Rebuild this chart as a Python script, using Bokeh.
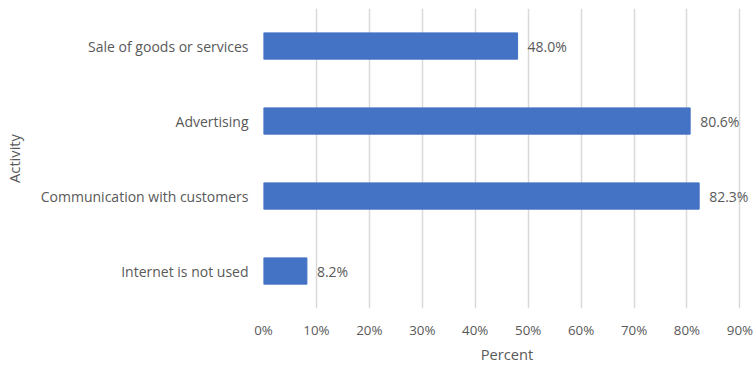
from bokeh.plotting import figure
from bokeh.models import ColumnDataSource, FixedTicker, Range1d, LabelSet
from bokeh.core.properties import value
from bokeh.embed import file_html
from bokeh.resources import INLINE

# Share of enterprises by internet activity
activities = ["Sale of goods or services", "Advertising",
              "Communication with customers", "Internet is not used"]
percents = [48.0, 80.6, 82.3, 8.2]
x_ticks = [0, 10, 20, 30, 40, 50, 60, 70, 80, 90]

FONT = "Open Sans"
TEXT = "#595959"

order = list(reversed(activities))
src = ColumnDataSource(dict(
    activity=activities,
    pct=percents,
    label=[f"{v:.1f}%" for v in percents],
))

# a little headroom past 90% keeps the last value label from being clipped
p = figure(width=756, height=366, y_range=order, x_range=Range1d(0, 92),
           output_backend="svg", toolbar_location=None,
           min_border_left=262, min_border_right=6,
           min_border_top=8, min_border_bottom=46)
p.outline_line_color = None
p.background_fill_color = "white"

p.hbar(y="activity", right="pct", left=0, height=0.35, source=src,
       fill_color="#4472C4", line_color="#4472C4")

labels = LabelSet(x="pct", y="activity", text="label", source=src,
                  x_offset=10, y_offset=0, text_baseline="middle",
                  text_font=value(FONT), text_font_size="10.5pt", text_color=TEXT)
p.add_layout(labels)

p.xaxis.ticker = FixedTicker(ticks=x_ticks)
p.xaxis.major_label_overrides = {t: f"{t}%" for t in x_ticks}
p.xaxis.axis_line_color = None
p.xaxis.major_tick_line_color = None
p.xaxis.minor_tick_line_color = None
p.xaxis.major_label_standoff = 6
p.xaxis.major_label_text_font = FONT
p.xaxis.major_label_text_font_size = "10pt"
p.xaxis.major_label_text_color = TEXT
p.xaxis.axis_label = "Percent"
p.xaxis.axis_label_text_font = FONT
p.xaxis.axis_label_text_font_style = "normal"
p.xaxis.axis_label_text_font_size = "11pt"
p.xaxis.axis_label_text_color = TEXT
p.xaxis.axis_label_standoff = 2

p.yaxis.axis_line_color = None
p.yaxis.major_tick_line_color = None
p.yaxis.minor_tick_line_color = None
p.yaxis.major_label_standoff = 9
p.yaxis.major_label_text_font = FONT
p.yaxis.major_label_text_font_size = "10.5pt"
p.yaxis.major_label_text_color = TEXT
p.yaxis.axis_label = "Activity"
p.yaxis.axis_label_text_font = FONT
p.yaxis.axis_label_text_font_style = "normal"
p.yaxis.axis_label_text_font_size = "11pt"
p.yaxis.axis_label_text_color = TEXT
p.yaxis.axis_label_standoff = 14

p.xgrid.grid_line_color = "#d9d9d9"
p.xgrid.grid_line_width = 1.5
p.ygrid.grid_line_color = None

open("out.html", "w").write(file_html(p, INLINE))
